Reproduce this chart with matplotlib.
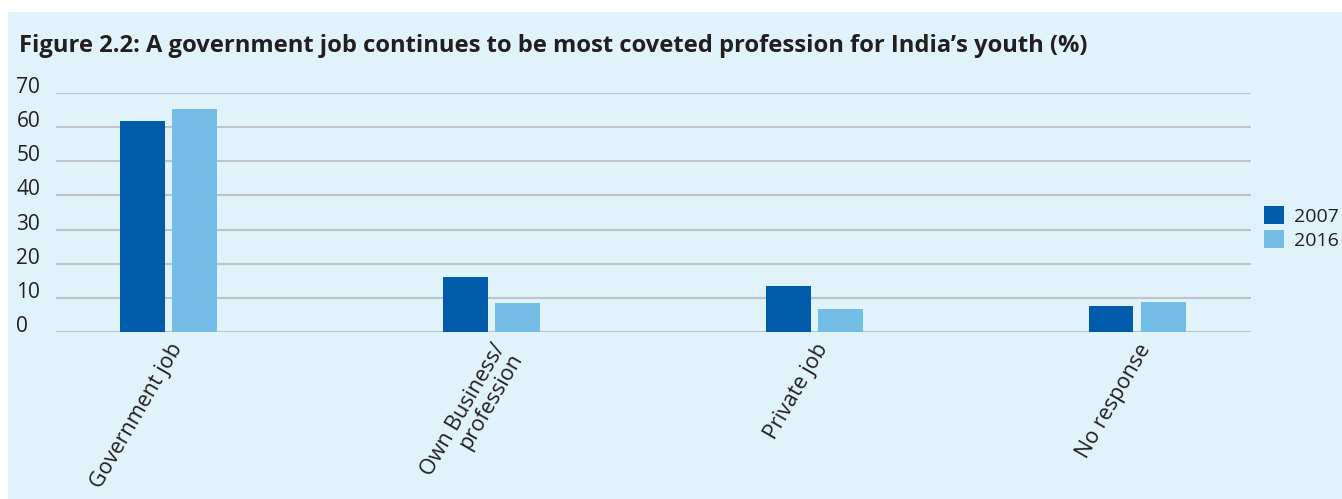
import matplotlib
matplotlib.use('Agg')
import matplotlib.pyplot as plt
import numpy as np

plt.rcParams['font.family'] = ['Open Sans', 'DejaVu Sans']

categories = ['Government job', 'Own Business/\nprofession', 'Private job', 'No response']
share_2007 = [62, 16, 13.5, 7.5]
share_2016 = [65.5, 8.5, 6.7, 8.7]
years = ['2007', '2016']
y_ticks = [0, 10, 20, 30, 40, 50, 60, 70]

BG = '#E0F2FA'
DARK = '#005BAA'
LIGHT = '#74BDE7'
TEXT = '#231F20'

fig = plt.figure(figsize=(13.42, 4.99), dpi=100, facecolor='white')
# light blue panel behind everything
fig.patches.append(plt.Rectangle((8 / 1342, 0), 1 - 8 / 1342, 1 - 12 / 499,
                                 transform=fig.transFigure, facecolor=BG,
                                 edgecolor='none', zorder=-5))

ax = fig.add_axes([56 / 1342, 1 - 331.7 / 499, (1250.7 - 56) / 1342, (331.7 - 93.3) / 499])
ax.set_facecolor('none')
ax.set_zorder(2)

x = np.arange(len(categories))
width = 0.139
offset = 0.0806
ax.bar(x - offset, share_2007, width, color=DARK, label=years[0], zorder=3)
ax.bar(x + offset, share_2016, width, color=LIGHT, label=years[1], zorder=3)

ax.set_xlim(-0.348, 3.352)
ax.set_ylim(0, 70)
ax.set_yticks(y_ticks)
ax.grid(axis='y', color='#BFC4C8', linewidth=1.5, zorder=1)
ax.set_axisbelow(True)
for side in ['top', 'right', 'left', 'bottom']:
    ax.spines[side].set_visible(False)
ax.tick_params(axis='both', length=0)
ax.tick_params(axis='y', pad=28.5, labelsize=15, labelcolor=TEXT)
for lbl in ax.get_yticklabels():
    lbl.set_horizontalalignment('left')
    lbl.set_verticalalignment('baseline')

ax.set_xticks(x)
ax.set_xticklabels(categories, rotation=60, ha='right', va='top',
                   rotation_mode='anchor', fontsize=15.5, color=TEXT,
                   linespacing=0.9)
ax.tick_params(axis='x', pad=6)

leg = ax.legend(loc='center left', bbox_to_anchor=(1.005, 0.435), frameon=False,
                fontsize=14, handlelength=1.0, handleheight=1.0,
                handletextpad=0.5, labelspacing=0.25, borderaxespad=0)
for t in leg.get_texts():
    t.set_color(TEXT)

fig.text(19 / 1342, 1 - 52 / 499,
         'Figure 2.2: A government job continues to be most coveted profession for India\u2019s youth (%)',
         fontsize=17.1, fontweight='bold', color=TEXT, ha='left', va='baseline')

fig.savefig('out.png', dpi=100, facecolor=fig.get_facecolor())
